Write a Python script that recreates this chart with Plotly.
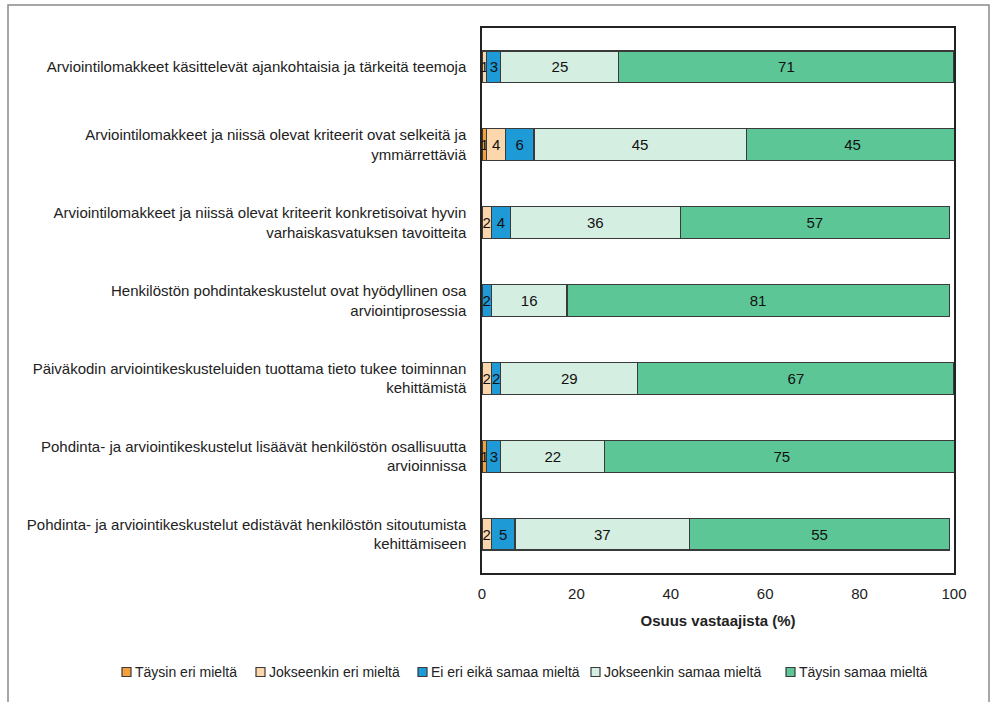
import plotly.graph_objects as go

statements = [
    "Arviointilomakkeet käsittelevät ajankohtaisia ja tärkeitä teemoja",
    "Arviointilomakkeet ja niissä olevat kriteerit ovat selkeitä ja<br>ymmärrettäviä",
    "Arviointilomakkeet ja niissä olevat kriteerit konkretisoivat hyvin<br>varhaiskasvatuksen tavoitteita",
    "Henkilöstön pohdintakeskustelut ovat hyödyllinen osa<br>arviointiprosessia",
    "Päiväkodin arviointikeskusteluiden tuottama tieto tukee toiminnan<br>kehittämistä",
    "Pohdinta- ja arviointikeskustelut lisäävät henkilöstön osallisuutta<br>arvioinnissa",
    "Pohdinta- ja arviointikeskustelut edistävät henkilöstön sitoutumista<br>kehittämiseen",
]

series_names = [
    "Täysin eri mieltä",
    "Jokseenkin eri mieltä",
    "Ei eri eikä samaa mieltä",
    "Jokseenkin samaa mieltä",
    "Täysin samaa mieltä",
]

taysin_eri = [0, 1, 0, 0, 0, 1, 0]
jokseenkin_eri = [1, 4, 2, 0, 2, 0, 2]
ei_eri_eika_samaa = [3, 6, 4, 2, 2, 3, 5]
jokseenkin_samaa = [25, 45, 36, 16, 29, 22, 37]
taysin_samaa = [71, 45, 57, 81, 67, 75, 55]

series_values = [taysin_eri, jokseenkin_eri, ei_eri_eika_samaa, jokseenkin_samaa, taysin_samaa]
colors = ["#F5A03C", "#FCD7AB", "#1E9AD6", "#D5EEE2", "#5CC697"]

FONT = "Liberation Sans, Arial, sans-serif"
FS = 15
EDGE = "#3a3a3a"

# plot-area geometry in pixels (used to place the key below the axis)
W, H = 995, 702
ML, MR, MT, MB = 482, 41, 28, 129
PW, PH = W - ML - MR, H - MT - MB


def px_x(px):
    return (px - ML) / PW


def px_y(py):
    return (H - MB - py) / PH


fig = go.Figure()
for name, vals, col in zip(series_names, series_values, colors):
    fig.add_trace(go.Bar(
        name=name,
        y=statements,
        x=[v if v else None for v in vals],
        orientation="h",
        marker=dict(color=col, line=dict(color=EDGE, width=1.2)),
        text=[str(v) if v else "" for v in vals],
        texttemplate="%{text}",
        textposition="inside",
        insidetextanchor="middle",
        textangle=0,
        constraintext="none",
        textfont=dict(family=FONT, size=FS, color="#111111"),
        hoverinfo="skip",
        showlegend=False,
    ))

# key: one row of swatches under the axis title
key_left = [122, 256, 418, 591, 786]
key_y = 672
for name, col, x0 in zip(series_names, colors, key_left):
    fig.add_shape(
        type="rect", xref="paper", yref="paper",
        x0=px_x(x0), x1=px_x(x0 + 9),
        y0=px_y(key_y + 4.5), y1=px_y(key_y - 4.5),
        fillcolor=col, line=dict(color=EDGE, width=1.2),
    )
    fig.add_annotation(
        xref="paper", yref="paper",
        x=px_x(x0 + 11), y=px_y(key_y),
        xanchor="left", yanchor="middle",
        text=name, showarrow=False,
        font=dict(family=FONT, size=14, color="#222222"),
    )

fig.update_layout(
    barmode="stack",
    bargap=0.59,
    width=W,
    height=H,
    margin=dict(l=ML, r=MR, t=MT, b=MB, autoexpand=False),
    paper_bgcolor="white",
    plot_bgcolor="white",
    font=dict(family=FONT, size=FS, color="#222222"),
    uniformtext=dict(minsize=FS, mode="show"),
    xaxis=dict(
        range=[0, 100],
        tickvals=[0, 20, 40, 60, 80, 100],
        showgrid=False,
        zeroline=False,
        showline=True, mirror=True, linecolor="#222222", linewidth=1.5,
        ticks="",
        ticklabelstandoff=6,
        tickfont=dict(family=FONT, size=FS, color="#222222"),
        title=dict(text="<b>Osuus vastaajista (%)</b>", standoff=15,
                   font=dict(family=FONT, size=FS, color="#222222")),
    ),
    yaxis=dict(
        autorange="reversed",
        showgrid=False,
        showline=True, mirror=True, linecolor="#222222", linewidth=1.5,
        ticks="",
        ticklabelstandoff=11,
        tickfont=dict(family=FONT, size=FS, color="#222222"),
    ),
)

# outer chart frame
fig.add_shape(
    type="rect", xref="paper", yref="paper",
    x0=px_x(8), x1=px_x(989), y0=px_y(715), y1=px_y(5),
    line=dict(color="#8a8a8a", width=1.5),
    fillcolor="rgba(0,0,0,0)",
    layer="below",
)

fig.write_html("out.html")
